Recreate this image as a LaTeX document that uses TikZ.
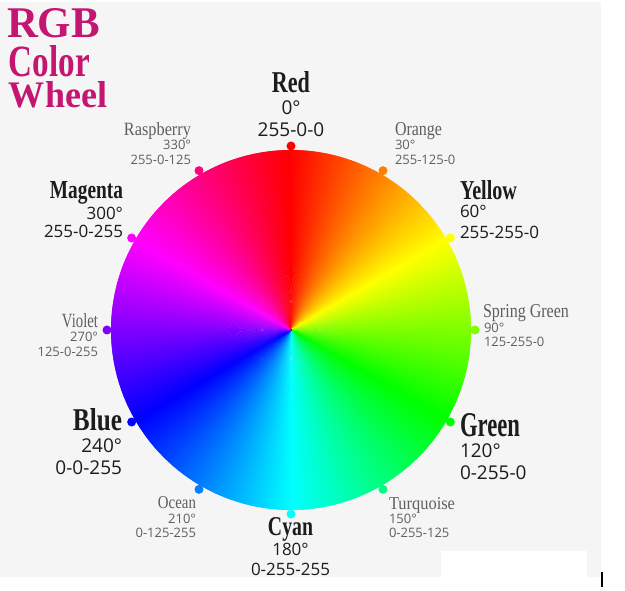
\documentclass[tikz,border=0pt]{standalone}
\usepackage{fontspec}
\usepackage{graphicx}
\usetikzlibrary{calc}
\setmainfont{Liberation Serif}
\newfontfamily\numfont{Open Sans}
\newfontfamily\namefont{Liberation Serif}
\definecolor{bggray}{RGB}{245,245,245}
\definecolor{titlepink}{RGB}{196,22,112}
\definecolor{darktext}{RGB}{28,28,28}
\definecolor{graytext}{RGB}{95,95,95}
% width, height (pt), text
\newcommand\fitbold[3]{\resizebox{#1pt}{#2pt}{\namefont\bfseries #3}}
\newcommand\fitreg[3]{\resizebox{#1pt}{#2pt}{\namefont #3}}
\begin{document}
\begin{tikzpicture}[x=1pt,y=-1pt,
  lbl/.style={inner sep=0pt, outer sep=0pt},
  title/.style={lbl, text=titlepink, anchor=base west},
  bigname/.style={lbl, text=darktext},
  smallname/.style={lbl, text=graytext},
  bignum/.style={lbl, text=darktext, font=\numfont\fontsize{17}{20}\selectfont},
  bignumL/.style={lbl, text=darktext, font=\numfont\fontsize{19}{22}\selectfont},
  smallnum/.style={lbl, text=graytext, font=\numfont\fontsize{13}{15}\selectfont},
  dot/.style={circle, inner sep=0pt, minimum size=9pt, draw=none}
]
\useasboundingbox (0,0) rectangle (625,591);
% background
\fill[white] (0,0) rectangle (625,591);
\fill[bggray] (0,2) rectangle (601,577);
\fill[white] (441,551) rectangle (587,577);
\coordinate (barTop) at (602,572);
\coordinate (barBot) at (602,587);
\draw[black, line width=1.4pt] (barTop) -- (barBot);

% colour wheel (conic hue gradient)
\coordinate (C) at (291,330);
\foreach \i in {0,0.5,...,359.5} {
  \definecolor{tmpc}{Hsb}{\i,1,1}\colorlet{wc}[rgb]{tmpc}
  \fill[wc] (C) -- ++({\i-90-0.45}:180) arc[start angle={\i-90-0.45}, end angle={\i-90+0.45}, radius=180] -- cycle;
}
% marker dots
\foreach \a in {0,30,...,330} {
  \definecolor{tmpc}{Hsb}{\a,1,1}\colorlet{dc}[rgb]{tmpc}
  \node[dot, fill=dc] (d\a) at ($(C)+({\a-90}:184)$) {};
}

% title
\node[title] (tRGB) at (7,38) {\fitbold{93}{29}{RGB}};
\node[title] (tColor) at (9,77) {\fitbold{81}{31}{Color}};
\node[title] (tWheel) at (9,108) {\fitbold{98}{26}{Wheel}};

% Red
\node[bigname, anchor=base] (nRed) at (291,93) {\fitbold{38}{21}{Red}};
\node[bignumL, anchor=base] (gRed) at (291,115) {0°};
\node[bignumL, anchor=base] (vRed) at (291,137) {255-0-0};
% Orange
\node[smallname, anchor=base west] (nOrange) at (395,136) {\fitreg{47}{13}{Orange}};
\node[smallnum, anchor=base west] (gOrange) at (395,150) {30°};
\node[smallnum, anchor=base west] (vOrange) at (395,165) {255-125-0};
% Yellow
\node[bigname, anchor=base west] (nYellow) at (460,200) {\fitbold{57}{19}{Yellow}};
\node[bignum, anchor=base west] (gYellow) at (460,218) {60°};
\node[bignum, anchor=base west] (vYellow) at (460,239) {255-255-0};
% Spring Green
\node[smallname, anchor=base west] (nSpring) at (483,318) {\fitreg{86}{13}{Spring Green}};
\node[smallnum, anchor=base west] (gSpring) at (484,333) {90°};
\node[smallnum, anchor=base west] (vSpring) at (484,347) {125-255-0};
% Green
\node[bigname, anchor=base west] (nGreen) at (460,436) {\fitbold{60}{23}{Green}};
\node[bignumL, anchor=base west] (gGreen) at (460,457) {120°};
\node[bignumL, anchor=base west] (vGreen) at (460,479) {0-255-0};
% Turquoise
\node[smallname, anchor=base west] (nTurq) at (389,509) {\fitreg{66}{12}{Turquoise}};
\node[smallnum, anchor=base west] (gTurq) at (389,523) {150°};
\node[smallnum, anchor=base west] (vTurq) at (389,537) {0-255-125};
% Cyan
\node[bigname, anchor=base] (nCyan) at (290.5,535) {\fitbold{45}{18}{Cyan}};
\node[bignum, anchor=base] (gCyan) at (290.5,555) {180°};
\node[bignum, anchor=base] (vCyan) at (290.5,575) {0-255-255};
% Ocean
\node[smallname, anchor=base east] (nOcean) at (196,508) {\fitreg{38}{12}{Ocean}};
\node[smallnum, anchor=base east] (gOcean) at (196,523) {210°};
\node[smallnum, anchor=base east] (vOcean) at (196,537) {0-125-255};
% Blue
\node[bigname, anchor=base east] (nBlue) at (122,430) {\fitbold{49}{22}{Blue}};
\node[bignumL, anchor=base east] (gBlue) at (122,453) {240°};
\node[bignumL, anchor=base east] (vBlue) at (122,474) {0-0-255};
% Violet
\node[smallname, anchor=base east] (nViolet) at (98,327) {\fitreg{36}{14}{Violet}};
\node[smallnum, anchor=base east] (gViolet) at (98,342) {270°};
\node[smallnum, anchor=base east] (vViolet) at (98,357) {125-0-255};
% Magenta
\node[bigname, anchor=base east] (nMagenta) at (123,199) {\fitbold{73}{17}{Magenta}};
\node[bignum, anchor=base east] (gMagenta) at (123,220) {300°};
\node[bignum, anchor=base east] (vMagenta) at (123,238) {255-0-255};
% Raspberry
\node[smallname, anchor=base east] (nRasp) at (191,136) {\fitreg{67}{13}{Raspberry}};
\node[smallnum, anchor=base east] (gRasp) at (191,150) {330°};
\node[smallnum, anchor=base east] (vRasp) at (191,165) {255-0-125};
\end{tikzpicture}
\end{document}
